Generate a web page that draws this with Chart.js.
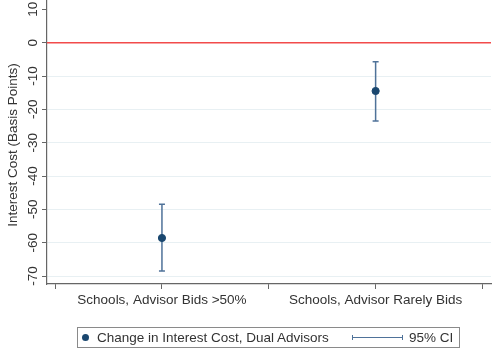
<!DOCTYPE html>
<html>
<head>
<meta charset="utf-8">
<script src="https://cdn.jsdelivr.net/npm/chart.js@4.4.1/dist/chart.umd.min.js"></script>
<style>
  html, body { margin: 0; padding: 0; background: #fff; }
  #wrap { position: relative; width: 493px; height: 352px; }
  #legend {
    position: absolute; left: 77px; top: 327px; width: 383px; height: 21px;
    border: 1px solid #8a8a8a; box-sizing: border-box;
    font: 13.5px "Liberation Sans", Arial, sans-serif; color: #333;
  }
  #legend .dot { position: absolute; left: 4px; top: 6px; width: 7px; height: 7px; border-radius: 50%; background: #1a476f; }
  #legend .t1 { position: absolute; left: 19px; top: 2px; white-space: nowrap; }
  #legend .ci { position: absolute; left: 274px; top: 9px; width: 51px; height: 1.2px; background: #4f7299; }
  #legend .ci::before, #legend .ci::after { content: ""; position: absolute; top: -2px; width: 1.2px; height: 5px; background: #4f7299; }
  #legend .ci::before { left: 0; }
  #legend .ci::after { right: 0; }
  #legend .t2 { position: absolute; left: 331px; top: 2px; white-space: nowrap; }
</style>
</head>
<body>
<div id="wrap">
  <canvas id="c" width="493" height="352"></canvas>
  <div id="legend">
    <span class="dot"></span><span class="t1">Change in Interest Cost, Dual Advisors</span>
    <span class="ci"></span><span class="t2">95% CI</span>
  </div>
</div>
<script>
// Groups and their positions on the x axis
const categories = ["Schools, Advisor Bids >50%", "Schools, Advisor Rarely Bids"];
const positions = [1, 2];
// Point estimates and 95% confidence bounds (basis points)
const estimates = [-58.6, -14.5];
const ciLower = [-68.5, -23.5];
const ciUpper = [-48.5, -5.7];
// Axis ticks
const yTicks = [-70, -60, -50, -40, -30, -20, -10, 0, 10];
const xTicks = [0.5, 1, 1.5, 2, 2.5];
const refLine = 0;

const FONT = '"Liberation Sans", Arial, sans-serif';
const TEXT = '#333333';

// Confidence interval bars drawn beneath the markers
const ciBars = {
  id: 'ciBars',
  beforeDatasetsDraw(chart) {
    const { ctx, scales: { x, y } } = chart;
    ctx.save();
    ctx.strokeStyle = '#4f7299';
    ctx.lineWidth = 1.5;
    positions.forEach((p, i) => {
      const px = x.getPixelForValue(p);
      const lo = y.getPixelForValue(ciLower[i]);
      const hi = y.getPixelForValue(ciUpper[i]);
      ctx.beginPath();
      ctx.moveTo(px, lo); ctx.lineTo(px, hi);
      ctx.moveTo(px - 3, lo); ctx.lineTo(px + 3, lo);
      ctx.moveTo(px - 3, hi); ctx.lineTo(px + 3, hi);
      ctx.stroke();
    });
    ctx.restore();
  }
};

// Zero reference line plus rotated y tick labels and axis title
const decorations = {
  id: 'decorations',
  beforeDatasetsDraw(chart) {
    const { ctx, chartArea, scales: { y } } = chart;
    ctx.save();
    const py = y.getPixelForValue(refLine);
    ctx.strokeStyle = '#f24b4b';
    ctx.lineWidth = 1.5;
    ctx.beginPath();
    ctx.moveTo(chartArea.left, py); ctx.lineTo(chartArea.right, py);
    ctx.stroke();
    ctx.restore();
  },
  afterDraw(chart) {
    const { ctx, chartArea, scales: { y } } = chart;
    ctx.save();
    ctx.fillStyle = TEXT;
    ctx.font = '13.5px ' + FONT;
    ctx.textAlign = 'center';
    ctx.textBaseline = 'middle';
    yTicks.forEach(v => {
      const py = y.getPixelForValue(v);
      ctx.save();
      ctx.translate(33, py);
      ctx.rotate(-Math.PI / 2);
      ctx.fillText(String(v), 0, 0);
      ctx.restore();
    });
    ctx.translate(13, (chartArea.top + chartArea.bottom) / 2 + 3);
    ctx.rotate(-Math.PI / 2);
    ctx.fillText('Interest Cost (Basis Points)', 0, 0);
    ctx.restore();
  }
};

new Chart(document.getElementById('c'), {
  type: 'scatter',
  data: {
    datasets: [{
      label: 'Change in Interest Cost, Dual Advisors',
      data: positions.map((p, i) => ({ x: p, y: estimates[i] })),
      backgroundColor: '#1a476f',
      borderColor: '#1a476f',
      pointRadius: 3.6,
      pointHoverRadius: 3.6
    }]
  },
  options: {
    responsive: false,
    animation: false,
    events: [],
    layout: { autoPadding: false, padding: { top: 0, right: 2, left: 0, bottom: 0 } },
    plugins: { legend: { display: false }, tooltip: { enabled: false } },
    scales: {
      x: {
        type: 'linear',
        min: 0.462,
        max: 2.54,
        afterBuildTicks: s => { s.ticks = xTicks.map(v => ({ value: v })); },
        afterFit: s => { s.height = 68; },
        border: { color: '#666', width: 1.2 },
        grid: { drawOnChartArea: false, drawTicks: true, tickLength: 5, tickColor: '#666', tickWidth: 1 },
        ticks: {
          autoSkip: false,
          maxRotation: 0,
          padding: 3,
          color: TEXT,
          font: { family: FONT, size: 13.5 },
          callback: v => {
            const i = positions.indexOf(v);
            return i >= 0 ? categories[i] : '';
          }
        }
      },
      y: {
        type: 'linear',
        min: -72.4,
        max: 12.8,
        afterBuildTicks: s => { s.ticks = yTicks.map(v => ({ value: v })); },
        afterFit: s => { s.width = 47; },
        border: { color: '#666', width: 1.2 },
        grid: {
          drawTicks: true,
          tickLength: 5,
          tickColor: '#666',
          color: ctx => (ctx.tick && (ctx.tick.value === 10 || ctx.tick.value === 0)) ? 'rgba(0,0,0,0)' : '#e8f0f3',
          lineWidth: 1
        },
        ticks: { display: false }
      }
    }
  },
  plugins: [decorations, ciBars]
});
</script>
</body>
</html>
